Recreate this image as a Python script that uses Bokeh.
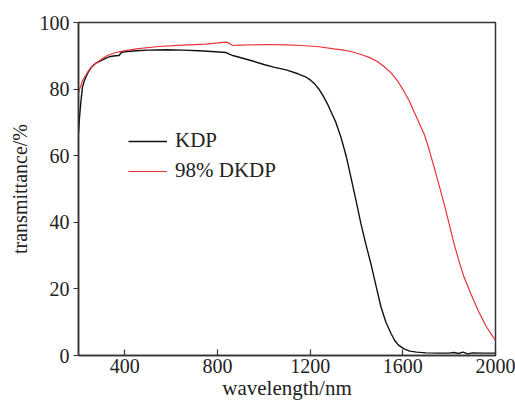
from bokeh.plotting import figure
from bokeh.models import Range1d, FixedTicker, Legend, LegendItem
from bokeh.embed import file_html
from bokeh.resources import INLINE

kdp_nm = [200, 205, 210, 217, 225, 239, 255, 273, 295, 317, 338, 360, 375, 385, 400, 450, 500, 580, 650,
          720, 790, 836, 850, 870, 944, 1000, 1043, 1100, 1147, 1180, 1203, 1220, 1240, 1259, 1275, 1290,
          1311, 1333, 1355, 1376, 1398, 1419, 1440, 1462, 1484, 1506, 1527, 1549, 1565, 1580, 1605, 1630,
          1660, 1700, 1750, 1800, 1820, 1840, 1860, 1880, 1900, 1950, 2000]
kdp_t = [67, 72, 76, 80.5, 82.5, 84.7, 86.5, 87.7, 88.5, 89.2, 89.8, 90.0, 90.1, 91.0, 91.2, 91.5, 91.7,
         91.8, 91.7, 91.5, 91.2, 91.0, 90.5, 90.0, 88.6, 87.4, 86.6, 85.7, 84.6, 83.7, 82.6, 81.5, 79.8,
         77.6, 75.5, 73.2, 70.0, 65.5, 60.0, 53.5, 46.5, 39.6, 33.5, 27.6, 21.0, 14.5, 10.0, 6.6, 4.5, 3.2,
         2.0, 1.3, 1.0, 0.8, 0.7, 0.7, 0.9, 0.6, 1.0, 0.5, 0.8, 0.7, 0.7]

dkdp_nm = [200, 205, 210, 217, 230, 243, 258, 273, 300, 325, 360, 390, 450, 546, 650, 750, 836, 850, 866,
           900, 1016, 1100, 1160, 1230, 1303, 1340, 1376, 1420, 1462, 1490, 1519, 1550, 1579, 1605, 1627,
           1650, 1679, 1692, 1713, 1735, 1757, 1778, 1800, 1821, 1843, 1865, 1895, 1925, 1960, 1994, 2000]
dkdp_t = [79, 80, 81, 82.5, 84, 85.5, 86.8, 87.7, 89, 90.1, 91, 91.4, 92.1, 92.8, 93.2, 93.5, 94.1, 93.8,
          93.1, 93.2, 93.4, 93.3, 93.1, 92.8, 92.1, 91.8, 91.3, 90.4, 89.3, 88.3, 86.8, 84.8, 82.3, 79.3,
          76.6, 73.0, 68.5, 66.5, 62.0, 56.5, 51.0, 45.6, 39.5, 33.6, 28.2, 23.4, 18.3, 13.5, 8.7, 5.1, 4.5]

x_ticks = [400, 800, 1200, 1600, 2000]
y_ticks = [0, 20, 40, 60, 80, 100]
labels = ["KDP", "98% DKDP"]

FONT = "Liberation Serif"

p = figure(width=515, height=405, output_backend="svg", toolbar_location=None,
           x_range=Range1d(200, 2000), y_range=Range1d(0, 100),
           min_border_left=78, min_border_right=20, min_border_top=22, min_border_bottom=50)
p.background_fill_color = "white"
p.border_fill_color = "white"
p.outline_line_color = "#333333"
p.outline_line_width = 1.5
p.grid.visible = False

r1 = p.line(kdp_nm, kdp_t, line_color="#111111", line_width=1.4)
r2 = p.line(dkdp_nm, dkdp_t, line_color="#e8333a", line_width=1.2)

xa = p.xaxis[0]
xa.ticker = FixedTicker(ticks=x_ticks)
xa.axis_label = "wavelength/nm"
xa.major_tick_in = 6
xa.major_tick_out = 0
xa.minor_tick_line_color = None
xa.major_label_standoff = 3
xa.axis_label_standoff = 0
xa.axis_label_text_font_size = "21px"

ya = p.yaxis[0]
ya.ticker = FixedTicker(ticks=y_ticks)
ya.axis_label = "transmittance/%"
ya.major_tick_in = 0
ya.major_tick_out = 5
ya.minor_tick_line_color = None
ya.major_label_standoff = 4
ya.axis_label_standoff = 6
ya.axis_label_text_font_size = "20px"

for ax in (xa, ya):
    ax.axis_line_color = "#333333"
    ax.axis_line_width = 1.5
    ax.major_tick_line_color = "#333333"
    ax.major_tick_line_width = 1.2
    ax.major_label_text_font = FONT
    ax.major_label_text_font_size = "20px"
    ax.major_label_text_color = "#222222"
    ax.axis_label_text_font = FONT
    ax.axis_label_text_font_style = "normal"
    ax.axis_label_text_color = "#222222"

legend = Legend(items=[LegendItem(label=labels[0], renderers=[r1]),
                       LegendItem(label=labels[1], renderers=[r2])],
                location=(50, 172), orientation="vertical")
legend.background_fill_alpha = 0
legend.border_line_color = None
legend.padding = 0
legend.margin = 0
legend.spacing = 5
legend.glyph_width = 39
legend.glyph_height = 20
legend.label_height = 20
legend.label_standoff = 8
legend.label_text_font = FONT
legend.label_text_font_size = "21px"
legend.label_text_color = "#222222"
p.add_layout(legend)

open("out.html", "w").write(file_html(p, INLINE))
